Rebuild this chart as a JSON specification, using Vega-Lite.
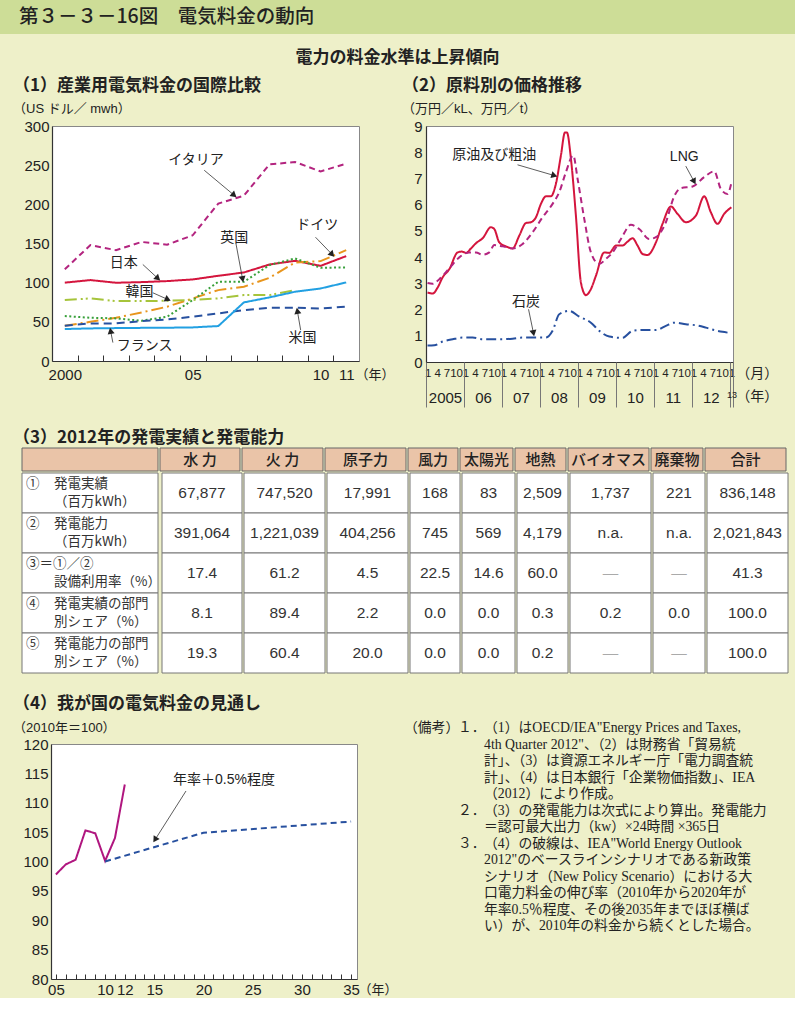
{
"$schema": "https://vega.github.io/schema/vega-lite/v6.json",
"background": "#eef0c9",
"padding": 0,
"config": {
  "font": "Liberation Sans, Noto Sans CJK JP",
  "view": {"stroke": null},
  "axis": {"labelFont": "Liberation Sans, Noto Sans CJK JP", "labelFontSize": 15, "labelColor": "#222", "labelFlush": false, "labelOverlap": false, "grid": false, "domainColor": "#333", "domainWidth": 1.2, "tickColor": "#333", "ticks": false, "labelPadding": 3},
  "title": {"font": "Noto Sans CJK JP", "color": "#222", "subtitleFont": "Liberation Sans, Noto Sans CJK JP", "subtitleColor": "#222"},
  "text": {"font": "Liberation Sans, Noto Sans CJK JP", "color": "#222"}
},
"datasets": {
  "c1": [
    {"s":"イタリア","x":2000,"y":117},{"s":"イタリア","x":2001,"y":148},{"s":"イタリア","x":2002,"y":141.5},{"s":"イタリア","x":2003,"y":152},{"s":"イタリア","x":2004,"y":148.5},{"s":"イタリア","x":2005,"y":160.5},{"s":"イタリア","x":2006,"y":201},{"s":"イタリア","x":2007,"y":211},{"s":"イタリア","x":2008,"y":251},{"s":"イタリア","x":2009,"y":254},{"s":"イタリア","x":2010,"y":242},{"s":"イタリア","x":2011,"y":252},
    {"s":"日本","x":2000,"y":100},{"s":"日本","x":2001,"y":103.3},{"s":"日本","x":2002,"y":99.9},{"s":"日本","x":2003,"y":100.7},{"s":"日本","x":2004,"y":102},{"s":"日本","x":2005,"y":104.1},{"s":"日本","x":2006,"y":108.8},{"s":"日本","x":2007,"y":113},{"s":"日本","x":2008,"y":123.2},{"s":"日本","x":2009,"y":127.9},{"s":"日本","x":2010,"y":121.5},{"s":"日本","x":2011,"y":133.9},
    {"s":"ドイツ","x":2000,"y":45},{"s":"ドイツ","x":2001,"y":50},{"s":"ドイツ","x":2002,"y":55.2},{"s":"ドイツ","x":2003,"y":62},{"s":"ドイツ","x":2004,"y":69.3},{"s":"ドイツ","x":2005,"y":79.9},{"s":"ドイツ","x":2006,"y":90.5},{"s":"ドイツ","x":2007,"y":94.8},{"s":"ドイツ","x":2008,"y":106.2},{"s":"ドイツ","x":2009,"y":125.8},{"s":"ドイツ","x":2010,"y":127.5},{"s":"ドイツ","x":2011,"y":141.5},
    {"s":"英国","x":2000,"y":57.4},{"s":"英国","x":2001,"y":55.2},{"s":"英国","x":2002,"y":54.4},{"s":"英国","x":2003,"y":51.4},{"s":"英国","x":2004,"y":56.5},{"s":"英国","x":2005,"y":77.8},{"s":"英国","x":2006,"y":101.1},{"s":"英国","x":2007,"y":101.1},{"s":"英国","x":2008,"y":122.4},{"s":"英国","x":2009,"y":130.9},{"s":"英国","x":2010,"y":119},{"s":"英国","x":2011,"y":119.4},
    {"s":"韓国","x":2000,"y":77.8},{"s":"韓国","x":2001,"y":79.9},{"s":"韓国","x":2002,"y":76.5},{"s":"韓国","x":2003,"y":76.5},{"s":"韓国","x":2004,"y":76.9},{"s":"韓国","x":2005,"y":77.8},{"s":"韓国","x":2006,"y":79.9},{"s":"韓国","x":2007,"y":84.1},{"s":"韓国","x":2008,"y":84.1},{"s":"韓国","x":2009,"y":90.5},
    {"s":"米国","x":2000,"y":45},{"s":"米国","x":2001,"y":48},{"s":"米国","x":2002,"y":48},{"s":"米国","x":2003,"y":51},{"s":"米国","x":2004,"y":53.1},{"s":"米国","x":2005,"y":56.5},{"s":"米国","x":2006,"y":60.8},{"s":"米国","x":2007,"y":65},{"s":"米国","x":2008,"y":68},{"s":"米国","x":2009,"y":68},{"s":"米国","x":2010,"y":67.1},{"s":"米国","x":2011,"y":69.3},
    {"s":"フランス","x":2000,"y":40.8},{"s":"フランス","x":2001,"y":41.6},{"s":"フランス","x":2002,"y":42},{"s":"フランス","x":2003,"y":42.3},{"s":"フランス","x":2004,"y":42.5},{"s":"フランス","x":2005,"y":42.9},{"s":"フランス","x":2006,"y":44.6},{"s":"フランス","x":2007,"y":74.8},{"s":"フランス","x":2008,"y":81.2},{"s":"フランス","x":2009,"y":88.4},{"s":"フランス","x":2010,"y":92.6},{"s":"フランス","x":2011,"y":100.3}
  ],
  "c1l": [
    {"label":"イタリア","x":2005.13,"y":256.3},{"label":"日本","x":2002.3,"y":124.5},{"label":"英国","x":2006.62,"y":156.4},{"label":"ドイツ","x":2009.87,"y":173.4},{"label":"韓国","x":2002.92,"y":88.4},{"label":"フランス","x":2003.12,"y":19.5},{"label":"米国","x":2009.29,"y":29.7}
  ],
  "c1a": [
    {"x":2006.62,"y":211.6,"x2":2005.45,"y2":243.5},{"x":2003.64,"y":105.4,"x2":2003.05,"y2":123.2},{"x":2006.95,"y":104.5,"x2":2006.69,"y2":150},{"x":2010.45,"y":136,"x2":2009.8,"y2":158},{"x":2004.03,"y":78.5,"x2":2003.44,"y2":87.1},{"x":2001.79,"y":38.5,"x2":2001.88,"y2":23.5},{"x":2009.09,"y":64,"x2":2009.22,"y2":39.5}
  ],
  "c2": [
    {"s":"原油及び粗油","x":2005.04,"y":2.65},{"s":"原油及び粗油","x":2005.175,"y":2.61},{"s":"原油及び粗油","x":2005.307,"y":2.84},{"s":"原油及び粗油","x":2005.439,"y":3.23},{"s":"原油及び粗油","x":2005.614,"y":3.54},{"s":"原油及び粗油","x":2005.833,"y":4.18},{"s":"原油及び粗油","x":2005.947,"y":4.21},{"s":"原油及び粗油","x":2006.053,"y":4.16},{"s":"原油及び粗油","x":2006.184,"y":4.33},{"s":"原油及び粗油","x":2006.316,"y":4.53},{"s":"原油及び粗油","x":2006.491,"y":4.72},{"s":"原油及び粗油","x":2006.711,"y":5.14},{"s":"原油及び粗油","x":2006.798,"y":5.07},{"s":"原油及び粗油","x":2006.93,"y":4.56},{"s":"原油及び粗油","x":2007.105,"y":4.41},{"s":"原油及び粗油","x":2007.281,"y":4.33},{"s":"原油及び粗油","x":2007.456,"y":4.82},{"s":"原油及び粗油","x":2007.632,"y":5.3},{"s":"原油及び粗油","x":2007.763,"y":5.33},{"s":"原油及び粗油","x":2007.895,"y":5.52},{"s":"原油及び粗油","x":2008.026,"y":6.03},{"s":"原油及び粗油","x":2008.158,"y":6.32},{"s":"原油及び粗油","x":2008.289,"y":6.32},{"s":"原油及び粗油","x":2008.421,"y":6.8},{"s":"原油及び粗油","x":2008.553,"y":7.88},{"s":"原油及び粗油","x":2008.658,"y":8.75},{"s":"原油及び粗油","x":2008.711,"y":8.75},{"s":"原油及び粗油","x":2008.816,"y":7.75},{"s":"原油及び粗油","x":2008.947,"y":5.58},{"s":"原油及び粗油","x":2009.079,"y":3.03},{"s":"原油及び粗油","x":2009.211,"y":2.55},{"s":"原油及び粗油","x":2009.342,"y":2.78},{"s":"原油及び粗油","x":2009.474,"y":3.29},{"s":"原油及び粗油","x":2009.693,"y":4.18},{"s":"原油及び粗油","x":2009.825,"y":4.16},{"s":"原油及び粗油","x":2010.0,"y":4.44},{"s":"原油及び粗油","x":2010.175,"y":4.44},{"s":"原油及び粗油","x":2010.307,"y":4.59},{"s":"原油及び粗油","x":2010.439,"y":4.72},{"s":"原油及び粗油","x":2010.57,"y":4.44},{"s":"原油及び粗油","x":2010.702,"y":4.12},{"s":"原油及び粗油","x":2010.833,"y":4.08},{"s":"原油及び粗油","x":2011.053,"y":4.56},{"s":"原油及び粗油","x":2011.228,"y":5.27},{"s":"原油及び粗油","x":2011.447,"y":5.93},{"s":"原油及び粗油","x":2011.623,"y":5.65},{"s":"原油及び粗油","x":2011.842,"y":5.33},{"s":"原油及び粗油","x":2012.105,"y":5.58},{"s":"原油及び粗油","x":2012.325,"y":6.32},{"s":"原油及び粗油","x":2012.5,"y":5.71},{"s":"原油及び粗油","x":2012.675,"y":5.27},{"s":"原油及び粗油","x":2012.851,"y":5.65},{"s":"原油及び粗油","x":2013.04,"y":5.9},
    {"s":"LNG","x":2005.04,"y":3.01},{"s":"LNG","x":2005.175,"y":2.98},{"s":"LNG","x":2005.351,"y":3.16},{"s":"LNG","x":2005.614,"y":3.57},{"s":"LNG","x":2005.877,"y":3.99},{"s":"LNG","x":2006.14,"y":4.18},{"s":"LNG","x":2006.316,"y":4.18},{"s":"LNG","x":2006.491,"y":4.09},{"s":"LNG","x":2006.667,"y":4.18},{"s":"LNG","x":2006.798,"y":4.46},{"s":"LNG","x":2007.018,"y":4.41},{"s":"LNG","x":2007.281,"y":4.33},{"s":"LNG","x":2007.544,"y":4.5},{"s":"LNG","x":2007.807,"y":4.95},{"s":"LNG","x":2008.07,"y":5.52},{"s":"LNG","x":2008.333,"y":6.03},{"s":"LNG","x":2008.509,"y":6.48},{"s":"LNG","x":2008.684,"y":7.24},{"s":"LNG","x":2008.877,"y":7.88},{"s":"LNG","x":2008.991,"y":6.99},{"s":"LNG","x":2009.167,"y":5.46},{"s":"LNG","x":2009.342,"y":4.18},{"s":"LNG","x":2009.561,"y":3.74},{"s":"LNG","x":2009.737,"y":3.93},{"s":"LNG","x":2009.912,"y":4.18},{"s":"LNG","x":2010.132,"y":4.69},{"s":"LNG","x":2010.395,"y":5.23},{"s":"LNG","x":2010.614,"y":5.07},{"s":"LNG","x":2010.877,"y":4.69},{"s":"LNG","x":2011.053,"y":4.76},{"s":"LNG","x":2011.316,"y":5.33},{"s":"LNG","x":2011.535,"y":6.32},{"s":"LNG","x":2011.711,"y":6.63},{"s":"LNG","x":2012.018,"y":6.69},{"s":"LNG","x":2012.325,"y":7.05},{"s":"LNG","x":2012.588,"y":7.27},{"s":"LNG","x":2012.763,"y":6.6},{"s":"LNG","x":2012.939,"y":6.41},{"s":"LNG","x":2013.04,"y":6.83},
    {"s":"石炭","x":2005.04,"y":0.63},{"s":"石炭","x":2005.219,"y":0.64},{"s":"石炭","x":2005.439,"y":0.78},{"s":"石炭","x":2005.702,"y":0.87},{"s":"石炭","x":2005.965,"y":0.93},{"s":"石炭","x":2006.228,"y":0.93},{"s":"石炭","x":2006.491,"y":0.87},{"s":"石炭","x":2006.754,"y":0.87},{"s":"石炭","x":2007.018,"y":0.87},{"s":"石炭","x":2007.281,"y":0.89},{"s":"石炭","x":2007.544,"y":0.93},{"s":"石炭","x":2007.807,"y":0.93},{"s":"石炭","x":2008.158,"y":0.93},{"s":"石炭","x":2008.333,"y":1.19},{"s":"石炭","x":2008.509,"y":1.82},{"s":"石炭","x":2008.772,"y":1.95},{"s":"石炭","x":2009.035,"y":1.73},{"s":"石炭","x":2009.342,"y":1.5},{"s":"石炭","x":2009.561,"y":1.19},{"s":"石炭","x":2009.825,"y":0.97},{"s":"石炭","x":2010.175,"y":0.92},{"s":"石炭","x":2010.439,"y":1.19},{"s":"石炭","x":2010.702,"y":1.22},{"s":"石炭","x":2011.053,"y":1.22},{"s":"石炭","x":2011.316,"y":1.38},{"s":"石炭","x":2011.535,"y":1.5},{"s":"石炭","x":2011.842,"y":1.44},{"s":"石炭","x":2012.105,"y":1.4},{"s":"石炭","x":2012.368,"y":1.31},{"s":"石炭","x":2012.588,"y":1.22},{"s":"石炭","x":2012.807,"y":1.15},{"s":"石炭","x":2012.939,"y":1.12}
  ],
  "c2l": [
    {"label":"原油及び粗油","x":2006.8,"y":7.88},{"label":"LNG","x":2011.8,"y":7.81},{"label":"石炭","x":2007.63,"y":2.29}
  ],
  "c2a": [
    {"x":2008.38,"y":7.11,"x2":2007.41,"y2":7.52},{"x":2012.06,"y":6.88,"x2":2011.84,"y2":7.47},{"x":2007.83,"y":1.1,"x2":2007.7,"y2":2.01}
  ],
  "c4": [
    {"s":"実績","x":2005,"y":97.8},{"s":"実績","x":2006,"y":99.5},{"s":"実績","x":2007,"y":100.3},{"s":"実績","x":2008,"y":105.3},{"s":"実績","x":2009,"y":104.8},{"s":"実績","x":2010,"y":100.1},{"s":"実績","x":2011,"y":104},{"s":"実績","x":2012,"y":113.1},
    {"s":"見通し","x":2010,"y":100},{"s":"見通し","x":2020,"y":104.9},{"s":"見通し","x":2035,"y":106.8}
  ],
  "head": [
    {"c":"項目","h":""},{"c":"水力","h":"水 力"},{"c":"火力","h":"火 力"},{"c":"原子力","h":"原子力"},{"c":"風力","h":"風力"},{"c":"太陽光","h":"太陽光"},{"c":"地熱","h":"地熱"},{"c":"バイオマス","h":"バイオマス"},{"c":"廃棄物","h":"廃棄物"},{"c":"合計","h":"合計"}
  ],
  "tbl": [
    {"c":"項目","r":1,"num":"①","lab1":"発電実績","lab2":"（百万kWh）"},{"c":"項目","r":2,"num":"②","lab1":"発電能力","lab2":"（百万kWh）"},{"c":"項目","r":3,"num":"③＝①／②","lab1":"","lab2":"設備利用率（%）"},{"c":"項目","r":4,"num":"④","lab1":"発電実績の部門","lab2":"別シェア（%）"},{"c":"項目","r":5,"num":"⑤","lab1":"発電能力の部門","lab2":"別シェア（%）"},
    {"c":"水力","r":1,"v":"67,877"},{"c":"水力","r":2,"v":"391,064"},{"c":"水力","r":3,"v":"17.4"},{"c":"水力","r":4,"v":"8.1"},{"c":"水力","r":5,"v":"19.3"},
    {"c":"火力","r":1,"v":"747,520"},{"c":"火力","r":2,"v":"1,221,039"},{"c":"火力","r":3,"v":"61.2"},{"c":"火力","r":4,"v":"89.4"},{"c":"火力","r":5,"v":"60.4"},
    {"c":"原子力","r":1,"v":"17,991"},{"c":"原子力","r":2,"v":"404,256"},{"c":"原子力","r":3,"v":"4.5"},{"c":"原子力","r":4,"v":"2.2"},{"c":"原子力","r":5,"v":"20.0"},
    {"c":"風力","r":1,"v":"168"},{"c":"風力","r":2,"v":"745"},{"c":"風力","r":3,"v":"22.5"},{"c":"風力","r":4,"v":"0.0"},{"c":"風力","r":5,"v":"0.0"},
    {"c":"太陽光","r":1,"v":"83"},{"c":"太陽光","r":2,"v":"569"},{"c":"太陽光","r":3,"v":"14.6"},{"c":"太陽光","r":4,"v":"0.0"},{"c":"太陽光","r":5,"v":"0.0"},
    {"c":"地熱","r":1,"v":"2,509"},{"c":"地熱","r":2,"v":"4,179"},{"c":"地熱","r":3,"v":"60.0"},{"c":"地熱","r":4,"v":"0.3"},{"c":"地熱","r":5,"v":"0.2"},
    {"c":"バイオマス","r":1,"v":"1,737"},{"c":"バイオマス","r":2,"v":"n.a."},{"c":"バイオマス","r":3,"v":"—"},{"c":"バイオマス","r":4,"v":"0.2"},{"c":"バイオマス","r":5,"v":"—"},
    {"c":"廃棄物","r":1,"v":"221"},{"c":"廃棄物","r":2,"v":"n.a."},{"c":"廃棄物","r":3,"v":"—"},{"c":"廃棄物","r":4,"v":"0.0"},{"c":"廃棄物","r":5,"v":"—"},
    {"c":"合計","r":1,"v":"836,148"},{"c":"合計","r":2,"v":"2,021,843"},{"c":"合計","r":3,"v":"41.3"},{"c":"合計","r":4,"v":"100.0"},{"c":"合計","r":5,"v":"100.0"}
  ]
},
"spacing": 10,
"vconcat": [
  {
    "width": 795, "height": 34,
    "data": {"values": [{"t": "第３－３－16図　電気料金の動向"}]},
    "title": {"text": "電力の料金水準は上昇傾向", "orient": "bottom", "anchor": "middle", "frame": "group", "offset": 16, "fontSize": 17, "fontWeight": "bold"},
    "layer": [
      {"mark": {"type": "rect", "color": "#cddd97"}, "encoding": {}},
      {"mark": {"type": "text", "align": "left", "baseline": "middle", "dx": -378.5, "fontSize": 19.5, "font": "Noto Sans CJK JP", "fontWeight": 500, "color": "#222"}, "encoding": {"text": {"field": "t"}}}
    ]
  },
  {
    "spacing": 20,
    "vconcat": [
      {
        "spacing": 0,
        "hconcat": [
          {"width": 1, "height": 1, "data": {"values": [{}]}, "mark": {"type": "rect", "opacity": 0}, "encoding": {}},
          {
            "width": 307, "height": 235,
            "view": {"stroke": "#888", "fill": "white"},
            "title": {"text": "（1）産業用電気料金の国際比較", "subtitle": "（US ドル／ mwh）", "anchor": "start", "frame": "group", "dx": -39, "fontSize": 17, "fontWeight": "bold", "subtitleFontSize": 13, "subtitlePadding": 8, "offset": 2},
            "encoding": {
              "x": {"field": "x", "type": "quantitative", "scale": {"domain": [1999.5, 2011.5], "nice": false, "zero": false},
                    "axis": {"title": null, "orient": "bottom", "values": [2000, 2005, 2010, 2011, 2000.5, 2001.5, 2002.5, 2003.5, 2004.5, 2005.5, 2006.5, 2007.5, 2008.5, 2009.5, 2010.5],
                             "labelExpr": "datum.value == 2000 ? '2000' : datum.value == 2005 ? '05' : datum.value == 2010 ? '10' : datum.value == 2011 ? '11' : ''",
                             "ticks": true, "tickSize": -6, "tickOpacity": {"condition": {"test": "datum.value % 1 == 0", "value": 0}, "value": 1}, "labelPadding": 12}},
              "y": {"field": "y", "type": "quantitative", "scale": {"domain": [0, 300], "nice": false, "zero": false},
                    "axis": {"title": null, "values": [0, 50, 100, 150, 200, 250, 300], "minExtent": 50, "labelPadding": 3}}
            },
            "layer": [
              {"data": {"name": "c1"}, "mark": {"type": "line", "strokeWidth": 2},
               "encoding": {
                 "color": {"field": "s", "type": "nominal", "legend": null, "scale": {"domain": ["イタリア","日本","ドイツ","英国","韓国","米国","フランス","原油及び粗油","LNG","石炭","実績","見通し"], "range": ["#b3247f","#d4153d","#e8951d","#38a03a","#a6c43b","#27509f","#22a0e2","#d4153d","#b3247f","#27509f","#b0167f","#27509f"]}},
                 "strokeDash": {"field": "s", "type": "nominal", "legend": null, "scale": {"domain": ["イタリア","日本","ドイツ","英国","韓国","米国","フランス","原油及び粗油","LNG","石炭","実績","見通し"], "range": [[6,4],[1,0],[12,4,2,4],[2,2.5],[12,4,2,3,2,4],[8,5],[1,0],[1,0],[6,4],[10,4,2,4],[1,0],[6,4]]}}
               }},
              {"data": {"name": "c1a"}, "mark": {"type": "rule", "color": "#333", "strokeWidth": 0.8},
               "encoding": {"x2": {"field": "x2"}, "y2": {"field": "y2"}}},
              {"data": {"name": "c1a"},
               "transform": [{"calculate": "atan2((datum.x - datum.x2) * 25.58, (datum.y - datum.y2) * 0.7833) * 180 / PI", "as": "ang"}],
               "mark": {"type": "point", "shape": "triangle-up", "filled": true, "color": "#222", "size": 50, "opacity": 1},
               "encoding": {"angle": {"field": "ang", "type": "quantitative", "scale": null}}},
              {"data": {"name": "c1l"}, "mark": {"type": "text", "fontSize": 14, "font": "Noto Sans CJK JP", "color": "#222"},
               "encoding": {"text": {"field": "label"}}},
              {"data": {"values": [{"label": "（年）", "x": 2011.36, "y": -17.9}]}, "mark": {"type": "text", "align": "left", "fontSize": 13, "font": "Noto Sans CJK JP"},
               "encoding": {"text": {"field": "label"}}}
            ]
          },
          {
            "width": 307, "height": 236,
            "view": {"stroke": "#888", "fill": "white"},
            "title": {"text": "（2）原料別の価格推移", "subtitle": "（万円／kL、万円／t）", "anchor": "start", "frame": "group", "dx": -24, "fontSize": 17, "fontWeight": "bold", "subtitleFontSize": 13, "subtitlePadding": 8, "offset": 2},
            "encoding": {
              "x": {"field": "x", "type": "quantitative", "scale": {"domain": [2005, 2013.0833], "nice": false, "zero": false}, "axis": null},
              "y": {"field": "y", "type": "quantitative", "scale": {"domain": [0, 9], "nice": false, "zero": false},
                    "axis": {"title": null, "values": [0,1,2,3,4,5,6,7,8,9], "minExtent": 30, "labelPadding": 4}}
            },
            "resolve": {"axis": {"x": "independent"}},
            "layer": [
              {"data": {"name": "c2"}, "mark": {"type": "line", "strokeWidth": 2, "interpolate": "monotone"},
               "encoding": {
                 "x": {"field": "x", "type": "quantitative", "scale": {"domain": [2005, 2013.0833], "nice": false, "zero": false},
                       "axis": {"title": null, "orient": "bottom", "values": [2005.0417,2005.2917,2005.5417,2005.7917,2006.0417,2006.2917,2006.5417,2006.7917,2007.0417,2007.2917,2007.5417,2007.7917,2008.0417,2008.2917,2008.5417,2008.7917,2009.0417,2009.2917,2009.5417,2009.7917,2010.0417,2010.2917,2010.5417,2010.7917,2011.0417,2011.2917,2011.5417,2011.7917,2012.0417,2012.2917,2012.5417,2012.7917,2013.0417],
                                "labelExpr": "'' + round((datum.value - floor(datum.value)) * 12 + 0.5)", "labelFontSize": 11.5, "labelPadding": 5, "ticks": false, "domain": true}},
                 "color": {"field": "s", "type": "nominal", "legend": null, "scale": {"domain": ["イタリア","日本","ドイツ","英国","韓国","米国","フランス","原油及び粗油","LNG","石炭","実績","見通し"], "range": ["#b3247f","#d4153d","#e8951d","#38a03a","#a6c43b","#27509f","#22a0e2","#d4153d","#b3247f","#27509f","#b0167f","#27509f"]}},
                 "strokeDash": {"field": "s", "type": "nominal", "legend": null, "scale": {"domain": ["イタリア","日本","ドイツ","英国","韓国","米国","フランス","原油及び粗油","LNG","石炭","実績","見通し"], "range": [[6,4],[1,0],[12,4,2,4],[2,2.5],[12,4,2,3,2,4],[8,5],[1,0],[1,0],[6,4],[10,4,2,4],[1,0],[6,4]]}}
               }},
              {"data": {"values": [{"label": "（月）", "x": 2013.17, "y": -0.46}, {"label": "（年）", "x": 2013.17, "y": -1.34}]},
               "mark": {"type": "text", "align": "left", "fontSize": 14, "font": "Noto Sans CJK JP"},
               "encoding": {
                 "x": {"field": "x", "type": "quantitative", "scale": {"domain": [2005, 2013.0833], "nice": false, "zero": false},
                       "axis": {"title": null, "orient": "bottom", "values": [2005,2006,2007,2008,2009,2010,2011,2012,2013,2013.0833,2005.5,2006.5,2007.5,2008.5,2009.5,2010.5,2011.5,2012.5,2013.0417],
                                "labelExpr": "datum.value == 2005.5 ? '2005' : (datum.value > 2013.03 && datum.value < 2013.06) ? '13' : (datum.value % 1 == 0.5 ? slice('' + floor(datum.value), 2) : '')",
                                "ticks": true, "tickSize": 45, "tickColor": "#777", "tickWidth": 1,
                                "tickOpacity": {"condition": {"test": "datum.value % 1 == 0 || datum.value > 2013.07", "value": 1}, "value": 0},
                                "labelFontSize": {"condition": {"test": "datum.value > 2013.03 && datum.value < 2013.06", "value": 9}, "value": 15},
                                "labelPadding": -17, "domain": false}},
                 "text": {"field": "label"}
               }},
              {"data": {"name": "c2a"}, "mark": {"type": "rule", "color": "#333", "strokeWidth": 0.8},
               "encoding": {"x2": {"field": "x2"}, "y2": {"field": "y2"}}},
              {"data": {"name": "c2a"},
               "transform": [{"calculate": "atan2((datum.x - datum.x2) * 37.98, (datum.y - datum.y2) * 26.22) * 180 / PI", "as": "ang"}],
               "mark": {"type": "point", "shape": "triangle-up", "filled": true, "color": "#222", "size": 50, "opacity": 1},
               "encoding": {"angle": {"field": "ang", "type": "quantitative", "scale": null}}},
              {"data": {"name": "c2l"}, "mark": {"type": "text", "fontSize": 14, "font": "Liberation Sans, Noto Sans CJK JP", "color": "#222"},
               "encoding": {"text": {"field": "label"}}}
            ]
          }
        ]
      },
      {
        "spacing": 20,
        "vconcat": [
          {
            "title": {"text": "（3）2012年の発電実績と発電能力", "anchor": "start", "dx": 13, "fontSize": 17, "fontWeight": "bold", "offset": 1},
            "spacing": 0,
            "hconcat": [
              {"width": 21, "height": 1, "data": {"values": [{}]}, "mark": {"type": "rect", "opacity": 0}, "encoding": {}},
              {
                "spacing": 0,
                "vconcat": [
                  {"spacing": 0, "hconcat": [
                    {"width": 136, "height": 23, "data": {"name": "head"}, "transform": [{"filter": "datum.c == '項目'"}], "mark": {"type": "rect", "fill": "#eac4a8", "stroke": "#666", "strokeWidth": 1}, "encoding": {}},
                    {"width": 80, "height": 23, "data": {"name": "head"}, "transform": [{"filter": "datum.c == '水力'"}], "layer": [{"mark": {"type": "rect", "fill": "#eac4a8", "stroke": "#666", "strokeWidth": 1}, "encoding": {}}, {"mark": {"type": "text", "fontSize": 15, "font": "Noto Sans CJK JP", "fontWeight": 500, "color": "#222"}, "encoding": {"text": {"field": "h"}}}]},
                    {"width": 81, "height": 23, "data": {"name": "head"}, "transform": [{"filter": "datum.c == '火力'"}], "layer": [{"mark": {"type": "rect", "fill": "#eac4a8", "stroke": "#666", "strokeWidth": 1}, "encoding": {}}, {"mark": {"type": "text", "fontSize": 15, "font": "Noto Sans CJK JP", "fontWeight": 500, "color": "#222"}, "encoding": {"text": {"field": "h"}}}]},
                    {"width": 81, "height": 23, "data": {"name": "head"}, "transform": [{"filter": "datum.c == '原子力'"}], "layer": [{"mark": {"type": "rect", "fill": "#eac4a8", "stroke": "#666", "strokeWidth": 1}, "encoding": {}}, {"mark": {"type": "text", "fontSize": 15, "font": "Noto Sans CJK JP", "fontWeight": 500, "color": "#222"}, "encoding": {"text": {"field": "h"}}}]},
                    {"width": 50, "height": 23, "data": {"name": "head"}, "transform": [{"filter": "datum.c == '風力'"}], "layer": [{"mark": {"type": "rect", "fill": "#eac4a8", "stroke": "#666", "strokeWidth": 1}, "encoding": {}}, {"mark": {"type": "text", "fontSize": 15, "font": "Noto Sans CJK JP", "fontWeight": 500, "color": "#222"}, "encoding": {"text": {"field": "h"}}}]},
                    {"width": 53, "height": 23, "data": {"name": "head"}, "transform": [{"filter": "datum.c == '太陽光'"}], "layer": [{"mark": {"type": "rect", "fill": "#eac4a8", "stroke": "#666", "strokeWidth": 1}, "encoding": {}}, {"mark": {"type": "text", "fontSize": 15, "font": "Noto Sans CJK JP", "fontWeight": 500, "color": "#222"}, "encoding": {"text": {"field": "h"}}}]},
                    {"width": 51, "height": 23, "data": {"name": "head"}, "transform": [{"filter": "datum.c == '地熱'"}], "layer": [{"mark": {"type": "rect", "fill": "#eac4a8", "stroke": "#666", "strokeWidth": 1}, "encoding": {}}, {"mark": {"type": "text", "fontSize": 15, "font": "Noto Sans CJK JP", "fontWeight": 500, "color": "#222"}, "encoding": {"text": {"field": "h"}}}]},
                    {"width": 81, "height": 23, "data": {"name": "head"}, "transform": [{"filter": "datum.c == 'バイオマス'"}], "layer": [{"mark": {"type": "rect", "fill": "#eac4a8", "stroke": "#666", "strokeWidth": 1}, "encoding": {}}, {"mark": {"type": "text", "fontSize": 15, "font": "Noto Sans CJK JP", "fontWeight": 500, "color": "#222"}, "encoding": {"text": {"field": "h"}}}]},
                    {"width": 52, "height": 23, "data": {"name": "head"}, "transform": [{"filter": "datum.c == '廃棄物'"}], "layer": [{"mark": {"type": "rect", "fill": "#eac4a8", "stroke": "#666", "strokeWidth": 1}, "encoding": {}}, {"mark": {"type": "text", "fontSize": 15, "font": "Noto Sans CJK JP", "fontWeight": 500, "color": "#222"}, "encoding": {"text": {"field": "h"}}}]},
                    {"width": 81, "height": 23, "data": {"name": "head"}, "transform": [{"filter": "datum.c == '合計'"}], "layer": [{"mark": {"type": "rect", "fill": "#eac4a8", "stroke": "#666", "strokeWidth": 1}, "encoding": {}}, {"mark": {"type": "text", "fontSize": 15, "font": "Noto Sans CJK JP", "fontWeight": 500, "color": "#222"}, "encoding": {"text": {"field": "h"}}}]}
                  ]},
                  {"spacing": 0, "hconcat": [
                    {"width": 136, "height": 200, "data": {"name": "tbl"}, "transform": [{"filter": "datum.c == '項目'"}],
                     "encoding": {"y": {"field": "r", "type": "ordinal", "axis": null, "scale": {"paddingInner": 0, "paddingOuter": 0}}},
                     "layer": [{"mark": {"type": "rect", "fill": "white", "stroke": "#777", "strokeWidth": 1}},
                               {"mark": {"type": "text", "align": "left", "dx": -64, "dy": -9, "fontSize": 13.5, "font": "Noto Sans CJK JP", "color": "#333"}, "encoding": {"text": {"field": "num"}}},
                               {"mark": {"type": "text", "align": "left", "dx": -36, "dy": -9, "fontSize": 13.5, "font": "Noto Sans CJK JP", "color": "#333"}, "encoding": {"text": {"field": "lab1"}}},
                               {"mark": {"type": "text", "align": "left", "dx": -36, "dy": 9, "fontSize": 13.5, "font": "Noto Sans CJK JP", "color": "#333"}, "encoding": {"text": {"field": "lab2"}}}]},
                    {"width": 80, "height": 200, "data": {"name": "tbl"}, "transform": [{"filter": "datum.c == '水力'"}], "encoding": {"y": {"field": "r", "type": "ordinal", "axis": null, "scale": {"paddingInner": 0, "paddingOuter": 0}}},
                     "layer": [{"mark": {"type": "rect", "fill": "white", "stroke": "#777", "strokeWidth": 1}}, {"mark": {"type": "text", "fontSize": 15.5}, "encoding": {"text": {"field": "v"}, "color": {"condition": {"test": "datum.v == '—'", "value": "#aaa"}, "value": "#333"}}}]},
                    {"width": 81, "height": 200, "data": {"name": "tbl"}, "transform": [{"filter": "datum.c == '火力'"}], "encoding": {"y": {"field": "r", "type": "ordinal", "axis": null, "scale": {"paddingInner": 0, "paddingOuter": 0}}},
                     "layer": [{"mark": {"type": "rect", "fill": "white", "stroke": "#777", "strokeWidth": 1}}, {"mark": {"type": "text", "fontSize": 15.5}, "encoding": {"text": {"field": "v"}, "color": {"condition": {"test": "datum.v == '—'", "value": "#aaa"}, "value": "#333"}}}]},
                    {"width": 81, "height": 200, "data": {"name": "tbl"}, "transform": [{"filter": "datum.c == '原子力'"}], "encoding": {"y": {"field": "r", "type": "ordinal", "axis": null, "scale": {"paddingInner": 0, "paddingOuter": 0}}},
                     "layer": [{"mark": {"type": "rect", "fill": "white", "stroke": "#777", "strokeWidth": 1}}, {"mark": {"type": "text", "fontSize": 15.5}, "encoding": {"text": {"field": "v"}, "color": {"condition": {"test": "datum.v == '—'", "value": "#aaa"}, "value": "#333"}}}]},
                    {"width": 50, "height": 200, "data": {"name": "tbl"}, "transform": [{"filter": "datum.c == '風力'"}], "encoding": {"y": {"field": "r", "type": "ordinal", "axis": null, "scale": {"paddingInner": 0, "paddingOuter": 0}}},
                     "layer": [{"mark": {"type": "rect", "fill": "white", "stroke": "#777", "strokeWidth": 1}}, {"mark": {"type": "text", "fontSize": 15.5}, "encoding": {"text": {"field": "v"}, "color": {"condition": {"test": "datum.v == '—'", "value": "#aaa"}, "value": "#333"}}}]},
                    {"width": 53, "height": 200, "data": {"name": "tbl"}, "transform": [{"filter": "datum.c == '太陽光'"}], "encoding": {"y": {"field": "r", "type": "ordinal", "axis": null, "scale": {"paddingInner": 0, "paddingOuter": 0}}},
                     "layer": [{"mark": {"type": "rect", "fill": "white", "stroke": "#777", "strokeWidth": 1}}, {"mark": {"type": "text", "fontSize": 15.5}, "encoding": {"text": {"field": "v"}, "color": {"condition": {"test": "datum.v == '—'", "value": "#aaa"}, "value": "#333"}}}]},
                    {"width": 51, "height": 200, "data": {"name": "tbl"}, "transform": [{"filter": "datum.c == '地熱'"}], "encoding": {"y": {"field": "r", "type": "ordinal", "axis": null, "scale": {"paddingInner": 0, "paddingOuter": 0}}},
                     "layer": [{"mark": {"type": "rect", "fill": "white", "stroke": "#777", "strokeWidth": 1}}, {"mark": {"type": "text", "fontSize": 15.5}, "encoding": {"text": {"field": "v"}, "color": {"condition": {"test": "datum.v == '—'", "value": "#aaa"}, "value": "#333"}}}]},
                    {"width": 81, "height": 200, "data": {"name": "tbl"}, "transform": [{"filter": "datum.c == 'バイオマス'"}], "encoding": {"y": {"field": "r", "type": "ordinal", "axis": null, "scale": {"paddingInner": 0, "paddingOuter": 0}}},
                     "layer": [{"mark": {"type": "rect", "fill": "white", "stroke": "#777", "strokeWidth": 1}}, {"mark": {"type": "text", "fontSize": 15.5}, "encoding": {"text": {"field": "v"}, "color": {"condition": {"test": "datum.v == '—'", "value": "#aaa"}, "value": "#333"}}}]},
                    {"width": 52, "height": 200, "data": {"name": "tbl"}, "transform": [{"filter": "datum.c == '廃棄物'"}], "encoding": {"y": {"field": "r", "type": "ordinal", "axis": null, "scale": {"paddingInner": 0, "paddingOuter": 0}}},
                     "layer": [{"mark": {"type": "rect", "fill": "white", "stroke": "#777", "strokeWidth": 1}}, {"mark": {"type": "text", "fontSize": 15.5}, "encoding": {"text": {"field": "v"}, "color": {"condition": {"test": "datum.v == '—'", "value": "#aaa"}, "value": "#333"}}}]},
                    {"width": 81, "height": 200, "data": {"name": "tbl"}, "transform": [{"filter": "datum.c == '合計'"}], "encoding": {"y": {"field": "r", "type": "ordinal", "axis": null, "scale": {"paddingInner": 0, "paddingOuter": 0}}},
                     "layer": [{"mark": {"type": "rect", "fill": "white", "stroke": "#777", "strokeWidth": 1}}, {"mark": {"type": "text", "fontSize": 15.5}, "encoding": {"text": {"field": "v"}, "color": {"condition": {"test": "datum.v == '—'", "value": "#aaa"}, "value": "#333"}}}]}
                  ]}
                ]
              }
            ]
          },
          {
            "spacing": 0,
            "hconcat": [
              {"width": 1, "height": 1, "data": {"values": [{}]}, "mark": {"type": "rect", "opacity": 0}, "encoding": {}},
              {
                "width": 306, "height": 235,
                "view": {"stroke": "#888", "fill": "white"},
                "title": {"text": "（4）我が国の電気料金の見通し", "subtitle": "（2010年＝100）", "anchor": "start", "frame": "group", "dx": -38, "fontSize": 17, "fontWeight": "bold", "subtitleFontSize": 13, "subtitlePadding": 9, "offset": 1},
                "encoding": {
                  "x": {"field": "x", "type": "quantitative", "scale": {"domain": [2004.5, 2035.6], "nice": false, "zero": false},
                        "axis": {"title": null, "orient": "bottom", "values": [2005,2006,2007,2008,2009,2010,2011,2012,2013,2014,2015,2016,2017,2018,2019,2020,2021,2022,2023,2024,2025,2026,2027,2028,2029,2030,2031,2032,2033,2034,2035],
                                 "labelExpr": "indexof([2005,2010,2012,2015,2020,2025,2030,2035], datum.value) >= 0 ? (datum.value == 2005 ? '05' : '' + (datum.value - 2000)) : ''",
                                 "ticks": true, "tickSize": -5, "labelPadding": 8}},
                  "y": {"field": "y", "type": "quantitative", "scale": {"domain": [80, 120], "nice": false, "zero": false},
                        "axis": {"title": null, "values": [80,85,90,95,100,105,110,115,120], "minExtent": 49, "labelPadding": 3}}
                },
                "layer": [
                  {"data": {"name": "c4"}, "mark": {"type": "line", "strokeWidth": 2},
                   "encoding": {
                     "color": {"field": "s", "type": "nominal", "legend": null, "scale": {"domain": ["イタリア","日本","ドイツ","英国","韓国","米国","フランス","原油及び粗油","LNG","石炭","実績","見通し"], "range": ["#b3247f","#d4153d","#e8951d","#38a03a","#a6c43b","#27509f","#22a0e2","#d4153d","#b3247f","#27509f","#b0167f","#27509f"]}},
                     "strokeDash": {"field": "s", "type": "nominal", "legend": null, "scale": {"domain": ["イタリア","日本","ドイツ","英国","韓国","米国","フランス","原油及び粗油","LNG","石炭","実績","見通し"], "range": [[6,4],[1,0],[12,4,2,4],[2,2.5],[12,4,2,3,2,4],[8,5],[1,0],[1,0],[6,4],[10,4,2,4],[1,0],[6,4]]}}
                   }},
                  {"data": {"values": [{"x": 2015.07, "y": 103.7, "x2": 2018.22, "y2": 112.0}]}, "mark": {"type": "rule", "color": "#333", "strokeWidth": 0.8},
                   "encoding": {"x2": {"field": "x2"}, "y2": {"field": "y2"}}},
                  {"data": {"values": [{"x": 2015.07, "y": 103.7, "x2": 2018.22, "y2": 112.0}]},
                   "transform": [{"calculate": "atan2((datum.x - datum.x2) * 9.839, (datum.y - datum.y2) * 5.875) * 180 / PI", "as": "ang"}],
                   "mark": {"type": "point", "shape": "triangle-up", "filled": true, "color": "#222", "size": 50, "opacity": 1},
                   "encoding": {"angle": {"field": "ang", "type": "quantitative", "scale": null}}},
                  {"data": {"values": [{"label": "年率＋0.5%程度", "x": 2022.08, "y": 113.87}]}, "mark": {"type": "text", "fontSize": 14, "font": "Liberation Sans, Noto Sans CJK JP"},
                   "encoding": {"text": {"field": "label"}}},
                  {"data": {"values": [{"label": "（年）", "x": 2035.75, "y": 78.1}]}, "mark": {"type": "text", "align": "left", "fontSize": 13, "font": "Noto Sans CJK JP"},
                   "encoding": {"text": {"field": "label"}}}
                ]
              },
              {
                "width": 1, "height": 2,
                "data": {"values": [{"a": "（備考）", "m1": "１．", "m2": "２．", "m3": "３．", "t": "（1）はOECD/IEA\"Energy Prices and Taxes,\n4th Quarter 2012\"、（2）は財務省「貿易統\n計」、（3）は資源エネルギー庁「電力調査統\n計」、（4）は日本銀行「企業物価指数」、IEA\n（2012）により作成。\n（3）の発電能力は次式により算出。発電能力\n＝認可最大出力（kw）×24時間 ×365日\n（4）の破線は、IEA\"World Energy Outlook\n2012\"のベースラインシナリオである新政策\nシナリオ（New Policy Scenario）における大\n口電力料金の伸び率（2010年から2020年が\n年率0.5％程度、その後2035年までほぼ横ば\nい）が、2010年の料金から続くとした場合。"}]},
                "layer": [
                  {"mark": {"type": "text", "align": "left", "baseline": "top", "dx": 5.5, "dy": -24, "fontSize": 13.8, "font": "Liberation Serif, Noto Sans CJK JP", "color": "#222"}, "encoding": {"text": {"field": "a"}}},
                  {"mark": {"type": "text", "align": "left", "baseline": "top", "dx": 59.5, "dy": -24, "fontSize": 13.8, "font": "Liberation Serif, Noto Sans CJK JP", "color": "#222"}, "encoding": {"text": {"field": "m1"}}},
                  {"mark": {"type": "text", "align": "left", "baseline": "top", "dx": 59.5, "dy": 58.5, "fontSize": 13.8, "font": "Liberation Serif, Noto Sans CJK JP", "color": "#222"}, "encoding": {"text": {"field": "m2"}}},
                  {"mark": {"type": "text", "align": "left", "baseline": "top", "dx": 59.5, "dy": 91.5, "fontSize": 13.8, "font": "Liberation Serif, Noto Sans CJK JP", "color": "#222"}, "encoding": {"text": {"field": "m3"}}},
                  {"mark": {"type": "text", "align": "left", "baseline": "top", "dx": 85.5, "dy": -24, "lineBreak": "\n", "lineHeight": 16.5, "fontSize": 13.8, "font": "Liberation Serif, Noto Sans CJK JP", "color": "#222"}, "encoding": {"text": {"field": "t"}}}
                ]
              }
            ]
          }
        ]
      }
    ]
  }
]
}
